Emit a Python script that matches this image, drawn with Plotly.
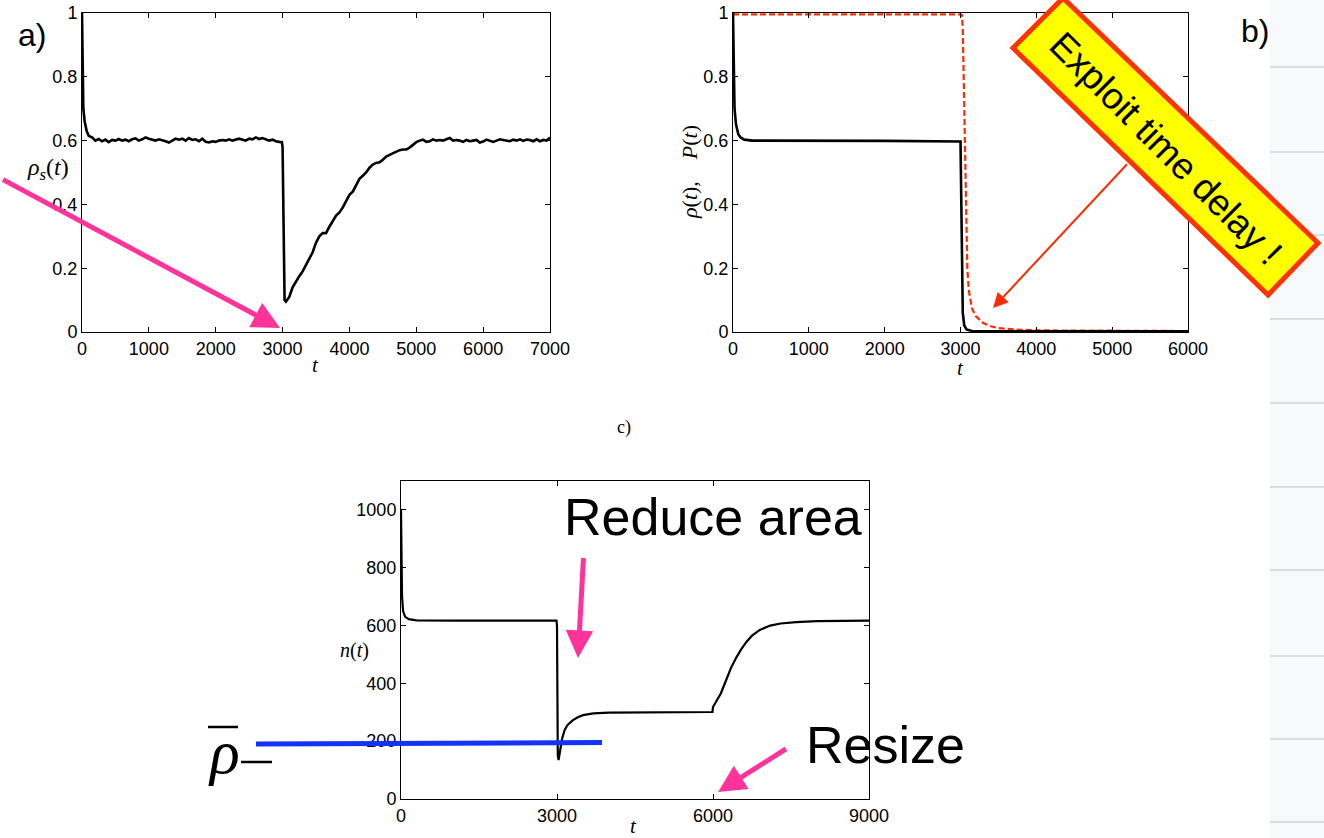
import plotly.graph_objects as go

W, H = 1324, 838

# ---------------- data ----------------
# panel a: rho_s(t)
t_a = [0, 10, 20, 40, 70, 100, 150, 200, 250, 300, 350, 400, 450, 500, 550, 600, 650, 700, 750, 800,
       850, 900, 950, 1000, 1050, 1100, 1150, 1200, 1250, 1300, 1350, 1400, 1450, 1500, 1550, 1600,
       1650, 1700, 1750, 1800, 1850, 1900, 1950, 2000, 2050, 2100, 2150, 2200, 2250, 2300, 2350, 2400,
       2450, 2500, 2550, 2600, 2650, 2700, 2750, 2800, 2850, 2900, 2950, 2990, 3000, 3010, 3020, 3030,
       3050, 3100, 3150, 3200, 3250, 3300, 3350, 3400, 3450, 3500, 3550, 3600, 3650, 3700, 3750, 3800,
       3850, 3900, 3950, 4000, 4050, 4100, 4150, 4200, 4250, 4300, 4350, 4400, 4450, 4500, 4550, 4600,
       4650, 4700, 4750, 4800, 4850, 4900, 4950, 5000, 5050, 5100, 5150, 5200, 5250, 5300, 5350, 5400,
       5450, 5500, 5550, 5600, 5650, 5700, 5750, 5800, 5850, 5900, 5950, 6000, 6050, 6100, 6150, 6200,
       6250, 6300, 6350, 6400, 6450, 6500, 6550, 6600, 6650, 6700, 6750, 6800, 6850, 6900, 6950, 7000]
rho_s = [1.0, 0.80, 0.70, 0.66, 0.63, 0.615, 0.61, 0.60, 0.605, 0.598, 0.603, 0.595, 0.602, 0.600, 0.605, 0.600,
         0.603, 0.598, 0.604, 0.607, 0.600, 0.604, 0.610, 0.606, 0.603, 0.600, 0.604, 0.602, 0.598, 0.594,
         0.600, 0.606, 0.603, 0.606, 0.600, 0.608, 0.602, 0.604, 0.598, 0.606, 0.596, 0.594, 0.598, 0.596,
         0.600, 0.602, 0.600, 0.604, 0.600, 0.603, 0.606, 0.603, 0.600, 0.606, 0.604, 0.610, 0.605, 0.608,
         0.604, 0.600, 0.603, 0.598, 0.596, 0.595, 0.58, 0.40, 0.15, 0.10,
         0.095, 0.11, 0.14, 0.16, 0.175, 0.19, 0.21, 0.225, 0.25, 0.28, 0.30, 0.31, 0.31, 0.33, 0.35, 0.365,
         0.375, 0.39, 0.41, 0.43, 0.44, 0.46, 0.48, 0.49, 0.50, 0.515, 0.525, 0.53, 0.532, 0.54, 0.55, 0.555,
         0.56, 0.565, 0.57, 0.572, 0.572, 0.578, 0.588, 0.595, 0.600, 0.603, 0.596, 0.598, 0.604, 0.600, 0.602, 0.600,
         0.604, 0.608, 0.600, 0.602, 0.600, 0.596, 0.602, 0.598, 0.600, 0.602, 0.594, 0.597, 0.603, 0.600, 0.596, 0.600,
         0.604, 0.602, 0.600, 0.598, 0.603, 0.600, 0.604, 0.599, 0.603, 0.602, 0.598, 0.604, 0.598, 0.602, 0.600, 0.610]

# panel b: rho(t) and P(t)
t_b_rho = [0, 5, 10, 20, 40, 70, 100, 150, 250, 1000, 2000, 3000, 3005, 3015, 3030, 3050, 3080, 3150, 4000, 6000]
rho_b = [1.0, 0.9, 0.8, 0.7, 0.65, 0.62, 0.61, 0.603, 0.600, 0.600, 0.599, 0.597, 0.50, 0.20, 0.06, 0.02, 0.008, 0.003, 0.002, 0.002]
t_b_P = [0, 1000, 2000, 3000, 3020, 3030, 3050, 3070, 3090, 3110, 3130, 3150, 3200, 3250, 3300, 3400, 3500, 3700, 4000, 5000, 6000]
P_b = [0.996, 0.996, 0.996, 0.996, 0.993, 0.95, 0.70, 0.40, 0.20, 0.13, 0.095, 0.075, 0.05, 0.038, 0.028, 0.018, 0.012, 0.008, 0.005, 0.004, 0.003]

# panel c: n(t)
t_c = [0, 10, 20, 40, 80, 150, 300, 1000, 2000, 2990, 3000, 3005, 3015, 3030, 3060, 3100, 3150, 3200, 3300,
       3400, 3500, 3700, 4000, 4500, 5000, 5500, 5990, 6000, 6050, 6150, 6250, 6350, 6450, 6550, 6650, 6750,
       6900, 7100, 7300, 7600, 8000, 8500, 9000]
n_c = [1000, 800, 700, 650, 630, 622, 618, 617, 616, 617, 600, 400, 150, 135, 170, 210, 240, 255, 272,
       283, 290, 296, 299, 300, 300, 300, 301, 318, 334, 365, 410, 455, 490, 520, 545, 565,
       585, 600, 607, 612, 615, 617, 617]

# tick labels
a_xticks = [0, 1000, 2000, 3000, 4000, 5000, 6000, 7000]
b_xticks = [0, 1000, 2000, 3000, 4000, 5000, 6000]
c_xticks = [0, 3000, 6000, 9000]
ab_yticks = [0, 0.2, 0.4, 0.6, 0.8, 1]
ab_ytext = ["0", "0.2", "0.4", "0.6", "0.8", "1"]
c_yticks = [0, 200, 400, 600, 800, 1000]

# ---------------- helpers ----------------
def px(x):
    return x / W

def py(y):
    return 1 - y / H

TICKFONT = dict(family="Liberation Sans, Arial, sans-serif", size=18, color="black")
MATHFONT = "Liberation Serif, DejaVu Serif, serif"
PINK = "#ff3399"
RED = "#ff2a00"

def ax_style(**kw):
    d = dict(showline=True, linecolor="black", linewidth=1, mirror="ticks", ticks="inside",
             ticklen=5, tickcolor="black", showgrid=False, zeroline=False, tickfont=TICKFONT,
             fixedrange=True, automargin=False)
    d.update(kw)
    return d

fig = go.Figure()
fig.add_trace(go.Scatter(x=t_a, y=rho_s, mode="lines", line=dict(color="black", width=2.6),
                         xaxis="x", yaxis="y", showlegend=False))
fig.add_trace(go.Scatter(x=t_b_P, y=P_b, mode="lines", line=dict(color=RED, width=2.2, dash="6px,3px"),
                         xaxis="x2", yaxis="y2", showlegend=False))
fig.add_trace(go.Scatter(x=t_b_rho, y=rho_b, mode="lines", line=dict(color="black", width=2.6),
                         xaxis="x2", yaxis="y2", showlegend=False))
fig.add_trace(go.Scatter(x=t_c, y=n_c, mode="lines", line=dict(color="black", width=2.2),
                         xaxis="x3", yaxis="y3", showlegend=False))

shapes = []
# right-edge faint slide background
shapes.append(dict(type="rect", xref="paper", yref="paper", x0=px(1270), x1=1, y0=0, y1=1,
                   fillcolor="#f7f9fb", line=dict(width=0), layer="below"))
for yy in [67, 152, 235, 319, 403, 487, 570, 656, 739, 822]:
    shapes.append(dict(type="line", xref="paper", yref="paper", x0=px(1270), x1=1, y0=py(yy), y1=py(yy),
                       line=dict(color="#d9dee2", width=2), layer="below"))

# yellow rotated box
corners = [(1063, -2), (1318, 243), (1268, 295), (1013, 48)]
path = "M " + " L ".join(f"{px(x)},{py(y)}" for x, y in corners) + " Z"
shapes.append(dict(type="path", xref="paper", yref="paper", path=path, fillcolor="#ffff00",
                   line=dict(color="#ff3300", width=5), layer="above"))

# blue rho-bar line
shapes.append(dict(type="line", xref="paper", yref="paper", x0=px(256), y0=py(744), x1=px(602), y1=py(742.5),
                   line=dict(color="#1433f5", width=5), layer="above"))
# overbar and subscript dash of rho-bar symbol
shapes.append(dict(type="line", xref="paper", yref="paper", x0=px(208), y0=py(727), x1=px(238), y1=py(727),
                   line=dict(color="black", width=2.5)))
shapes.append(dict(type="line", xref="paper", yref="paper", x0=px(241), y0=py(762), x1=px(272), y1=py(762),
                   line=dict(color="black", width=2.5)))

ann = []
def text(x, y, s, size, family="Liberation Sans, Arial, sans-serif", angle=0, xanchor="center", yanchor="middle"):
    ann.append(dict(x=px(x), y=py(y), xref="paper", yref="paper", text=s, showarrow=False,
                    font=dict(family=family, size=size, color="black"), textangle=angle,
                    xanchor=xanchor, yanchor=yanchor))

def arrow(x_tip, y_tip, x_tail, y_tail, color, width, size):
    ann.append(dict(x=px(x_tip), y=py(y_tip), xref="paper", yref="paper", ax=x_tail - x_tip, ay=y_tail - y_tip,
                    axref="pixel", ayref="pixel", showarrow=True, arrowhead=2, arrowsize=size,
                    arrowwidth=width, arrowcolor=color, text=" "))

text(32, 35, "a)", 32)
text(1255, 31, "b)", 32)
text(624, 428, "c)", 18, family=MATHFONT)
text(315, 365, "<i>t</i>", 21, family=MATHFONT)
text(960, 368, "<i>t</i>", 21, family=MATHFONT)
text(633, 826, "<i>t</i>", 21, family=MATHFONT)
text(48, 169, "<i>ρ</i><sub><i>s</i></sub>(<i>t</i>)", 24, family=MATHFONT)
text(689, 172, "<i>ρ</i>(<i>t</i>),    <i>P</i>(<i>t</i>)", 22, family=MATHFONT, angle=-90)
text(354, 650, "<i>n</i>(<i>t</i>)", 20, family=MATHFONT)
text(1166, 148, "Exploit time delay !", 37, angle=45)
text(713, 517, "Reduce area", 52)
text(885, 745, "Resize", 52)
text(224, 752, "<i>ρ</i>", 62, family=MATHFONT)

arrow(280, 328, -5, 178, PINK, 5, 1.1)
arrow(993, 308, 1130, 161, RED, 2, 1.5)
arrow(578, 658, 584, 548, PINK, 5, 1.1)
arrow(718, 792, 789, 747, PINK, 5, 1.1)

fig.update_layout(
    width=W, height=H, margin=dict(l=0, r=0, t=0, b=0, autoexpand=False),
    paper_bgcolor="white", plot_bgcolor="white",
    xaxis=ax_style(domain=[px(82), px(550)], range=[0, 7000], tickvals=a_xticks, anchor="y"),
    yaxis=ax_style(domain=[py(332), py(13)], range=[0, 1], tickvals=ab_yticks, ticktext=ab_ytext, anchor="x"),
    xaxis2=ax_style(domain=[px(733), px(1188)], range=[0, 6000], tickvals=b_xticks, anchor="y2"),
    yaxis2=ax_style(domain=[py(332), py(13)], range=[0, 1], tickvals=ab_yticks, ticktext=ab_ytext, anchor="x2"),
    xaxis3=ax_style(domain=[px(401), px(869)], range=[0, 9000], tickvals=c_xticks, anchor="y3"),
    yaxis3=ax_style(domain=[py(799), py(481)], range=[0, 1100], tickvals=c_yticks, anchor="x3"),
    shapes=shapes, annotations=ann,
)

fig.write_html("out.html", config=dict(displayModeBar=False),
               post_script="document.body.style.margin='0';document.body.style.overflow='hidden';")
